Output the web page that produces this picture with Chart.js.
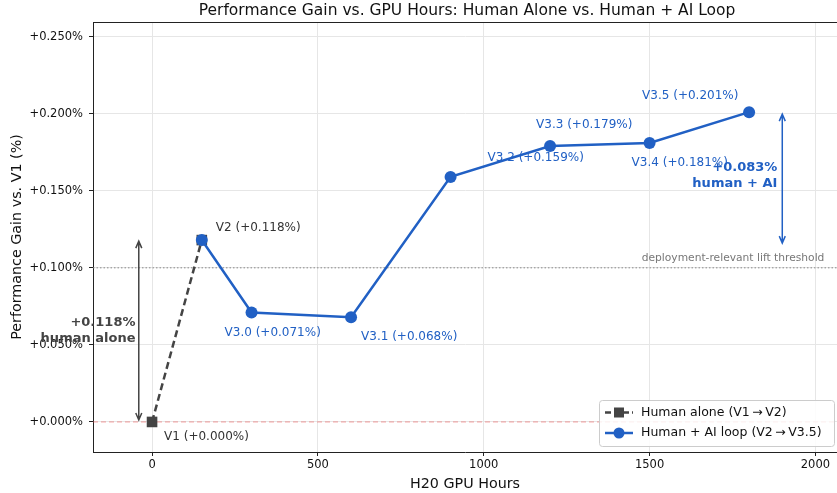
<!DOCTYPE html>
<html>
<head>
<meta charset="utf-8">
<script src="https://cdn.jsdelivr.net/npm/chart.js@4/dist/chart.umd.min.js"></script>
<style>
  html, body { margin: 0; padding: 0; background: #fff; overflow: hidden; }
  canvas { display: block; }
</style>
</head>
<body>
<canvas id="chart" width="837" height="493"></canvas>
<script>
// ---- data ----
const humanHours = [0, 150]
const humanGain = [0.000, 0.118]
const humanNames = ['V1', 'V2']

const aiHours = [150, 300, 600, 900, 1200, 1500, 1800]
const aiGain = [0.118, 0.071, 0.068, 0.159, 0.179, 0.181, 0.201]
const aiNames = ['V2', 'V3.0', 'V3.1', 'V3.2', 'V3.3', 'V3.4', 'V3.5']

const xTicks = [0, 500, 1000, 1500, 2000]
const yTicks = [0.000, 0.050, 0.100, 0.150, 0.200, 0.250]
const threshold = 0.100

// ---- style ----
const BLUE = '#2160c4'
const DARK = '#444444'
const FONT = '"DejaVu Sans", Verdana, sans-serif'

// label offsets in pixels from the point (text left edge, text middle)
const humanLabelOffsets = [[12, 15], [14, -12]]
const aiLabelOffsets = [null, [-27, 20], [10, 20], [37, -19], [-14, -21], [-18, 20], [-107, -16]]

function pct(v) {
	return '+' + v.toFixed(3) + '%'
}

function drawArrow(ctx, x, y1, y2, color) {
	ctx.save()
	ctx.strokeStyle = color
	ctx.lineWidth = 1.5
	ctx.beginPath()
	ctx.moveTo(x, y1)
	ctx.lineTo(x, y2)
	const h = 7, w = 3
	ctx.moveTo(x - w, y1 + h); ctx.lineTo(x, y1); ctx.lineTo(x + w, y1 + h)
	ctx.moveTo(x - w, y2 - h); ctx.lineTo(x, y2); ctx.lineTo(x + w, y2 - h)
	ctx.stroke()
	ctx.restore()
}

const backgroundPlugin = {
	id: 'backLines',
	beforeDatasetsDraw(chart) {
		const ctx = chart.ctx
		const a = chart.chartArea
		const sy = chart.scales.y
		ctx.save()
		// zero line
		ctx.strokeStyle = 'rgba(235, 80, 80, 0.55)'
		ctx.lineWidth = 1
		ctx.setLineDash([5, 3])
		ctx.beginPath()
		ctx.moveTo(a.left, sy.getPixelForValue(0))
		ctx.lineTo(a.right, sy.getPixelForValue(0))
		ctx.stroke()
		// threshold line
		ctx.strokeStyle = '#8a8a8a'
		ctx.setLineDash([1.5, 2])
		ctx.beginPath()
		ctx.moveTo(a.left, sy.getPixelForValue(threshold))
		ctx.lineTo(a.right, sy.getPixelForValue(threshold))
		ctx.stroke()
		ctx.restore()
	}
}

const annotationPlugin = {
	id: 'annotations',
	afterDatasetsDraw(chart) {
		const ctx = chart.ctx
		const a = chart.chartArea
		const sx = chart.scales.x
		const sy = chart.scales.y
		ctx.save()

		// top spine
		ctx.strokeStyle = '#222'
		ctx.lineWidth = 1
		ctx.beginPath()
		ctx.moveTo(a.left, a.top + 0.5)
		ctx.lineTo(a.right, a.top + 0.5)
		ctx.stroke()

		// title
		ctx.fillStyle = '#111'
		ctx.font = '15.5px ' + FONT
		ctx.textAlign = 'center'
		ctx.textBaseline = 'middle'
		ctx.fillText('Performance Gain vs. GPU Hours: Human Alone vs. Human + AI Loop', 467, 11)

		// point labels
		ctx.font = '12px ' + FONT
		ctx.textAlign = 'left'
		humanHours.forEach((h, i) => {
			const o = humanLabelOffsets[i]
			ctx.fillStyle = '#333'
			ctx.fillText(humanNames[i] + ' (' + pct(humanGain[i]) + ')', sx.getPixelForValue(h) + o[0], sy.getPixelForValue(humanGain[i]) + o[1])
		})
		aiHours.forEach((h, i) => {
			const o = aiLabelOffsets[i]
			if (!o) return
			ctx.fillStyle = BLUE
			ctx.fillText(aiNames[i] + ' (' + pct(aiGain[i]) + ')', sx.getPixelForValue(h) + o[0], sy.getPixelForValue(aiGain[i]) + o[1])
		})

		// threshold label
		ctx.fillStyle = '#777'
		ctx.font = '10.7px ' + FONT
		ctx.textAlign = 'right'
		ctx.fillText('deployment-relevant lift threshold', sx.getPixelForValue(2027), sy.getPixelForValue(threshold) - 10)

		// human alone gain arrow
		const hx = sx.getPixelForValue(-40)
		drawArrow(ctx, hx, sy.getPixelForValue(humanGain[1]) + 1, sy.getPixelForValue(humanGain[0]) - 2, DARK)
		ctx.fillStyle = DARK
		ctx.font = 'bold 13px ' + FONT
		ctx.textAlign = 'right'
		const hm = sy.getPixelForValue((humanGain[0] + humanGain[1]) / 2)
		ctx.fillText(pct(humanGain[1] - humanGain[0]), sx.getPixelForValue(-50), hm - 8)
		ctx.fillText('human alone', sx.getPixelForValue(-50), hm + 8)

		// human + AI gain arrow
		const g0 = aiGain[0], g1 = aiGain[aiGain.length - 1]
		const ax = sx.getPixelForValue(1900)
		drawArrow(ctx, ax, sy.getPixelForValue(g1) + 2, sy.getPixelForValue(g0) + 3, BLUE)
		ctx.fillStyle = BLUE
		const am = sy.getPixelForValue((g0 + g1) / 2)
		ctx.fillText(pct(g1 - g0), sx.getPixelForValue(1885), am - 8)
		ctx.fillText('human + AI', sx.getPixelForValue(1885), am + 8)

		// legend
		const lx = 599, ly = 400, lw = 235, lh = 46
		ctx.fillStyle = 'rgba(255,255,255,0.85)'
		ctx.strokeStyle = '#cccccc'
		ctx.lineWidth = 1
		ctx.beginPath()
		ctx.roundRect(lx + 0.5, ly + 0.5, lw, lh, 3)
		ctx.fill()
		ctx.stroke()
		const entries = [
			{ text: 'Human alone (V1\u2009\u2192\u2009V2)', color: DARK, dash: [6, 3], square: true },
			{ text: 'Human + AI loop (V2\u2009\u2192\u2009V3.5)', color: BLUE, dash: [], square: false }
		]
		entries.forEach((e, i) => {
			const y = ly + 12.5 + i * 20.5
			ctx.strokeStyle = e.color
			ctx.lineWidth = 2.5
			ctx.setLineDash(e.dash)
			ctx.beginPath()
			ctx.moveTo(lx + 6, y)
			ctx.lineTo(lx + 34, y)
			ctx.stroke()
			ctx.setLineDash([])
			ctx.fillStyle = e.color
			if (e.square) {
				ctx.fillRect(lx + 20 - 5, y - 5, 10, 10)
			} else {
				ctx.beginPath()
				ctx.arc(lx + 20, y, 5.5, 0, Math.PI * 2)
				ctx.fill()
			}
			ctx.fillStyle = '#111'
			ctx.font = '12.5px ' + FONT
			ctx.textAlign = 'left'
			ctx.fillText(e.text, lx + 42, y)
		})

		ctx.restore()
	}
}

const ctx = document.getElementById('chart')

new Chart(ctx, {
	type: 'line',
	data: {
		datasets: [
			{
				label: 'Human alone (V1 → V2)',
				data: humanHours.map((h, i) => ({ x: h, y: humanGain[i] })),
				borderColor: DARK,
				backgroundColor: DARK,
				borderWidth: 2.5,
				borderDash: [7, 4],
				pointStyle: 'rect',
				pointRadius: 7.5,
				pointBorderWidth: 0,
				order: 1
			},
			{
				label: 'Human + AI loop (V2 → V3.5)',
				data: aiHours.map((h, i) => ({ x: h, y: aiGain[i] })),
				borderColor: BLUE,
				backgroundColor: BLUE,
				borderWidth: 2.5,
				pointStyle: 'circle',
				pointRadius: 6,
				pointBorderWidth: 0,
				order: 0
			}
		]
	},
	options: {
		responsive: false,
		animation: false,
		devicePixelRatio: 1,
		layout: { autoPadding: false, padding: { top: 22, right: 0, left: 0, bottom: 0 } },
		plugins: {
			legend: { display: false },
			title: { display: false },
			tooltip: { enabled: false }
		},
		scales: {
			x: {
				type: 'linear',
				min: -178,
				max: 2065,
				afterBuildTicks: (scale) => { scale.ticks = xTicks.map(v => ({ value: v })) },
				afterFit: (scale) => { scale.height = 41; scale.paddingRight = 0; scale.paddingLeft = 0 },
				border: { color: '#222', width: 1 },
				grid: { color: '#e6e6e6', tickColor: '#222', tickLength: 4 },
				ticks: { color: '#111', font: { family: FONT, size: 11.5 }, padding: 2, maxRotation: 0, callback: (v) => String(v) },
				title: { display: true, text: 'H20 GPU Hours', color: '#111', font: { family: FONT, size: 14.3 }, padding: { top: 2, bottom: 0 } }
			},
			y: {
				type: 'linear',
				min: -0.0195,
				max: 0.2595,
				afterBuildTicks: (scale) => { scale.ticks = yTicks.map(v => ({ value: v })) },
				afterFit: (scale) => { scale.width = 93 },
				border: { color: '#222', width: 1 },
				grid: { color: '#e6e6e6', tickColor: '#222', tickLength: 4 },
				ticks: { color: '#111', font: { family: FONT, size: 11.5 }, padding: 6, callback: (v) => pct(v) },
				title: { display: true, text: 'Performance Gain vs. V1 (%)', color: '#111', font: { family: FONT, size: 14.3 }, padding: { top: 9, bottom: 0 } }
			}
		}
	},
	plugins: [backgroundPlugin, annotationPlugin]
})
</script>
</body>
</html>
